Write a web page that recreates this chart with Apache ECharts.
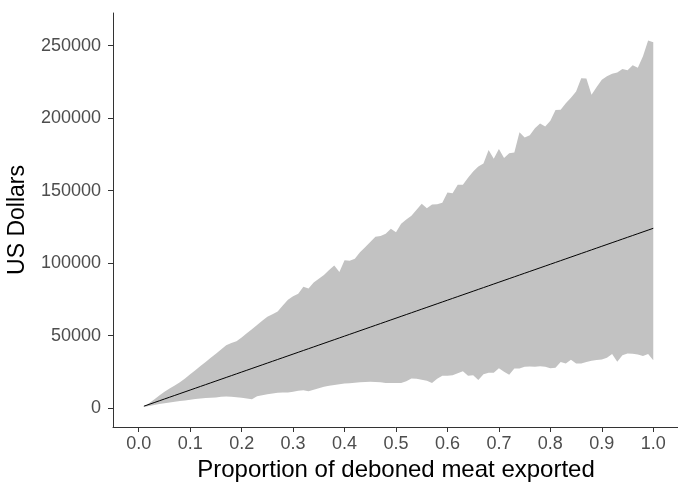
<!DOCTYPE html>
<html><head><meta charset="utf-8">
<script src="https://cdn.jsdelivr.net/npm/echarts@6/dist/echarts.min.js"></script>
<style>html,body{margin:0;padding:0;background:#fff}#c{width:678px;height:483px}</style>
</head><body><div id="c"></div>
<script>
const proportion = [0.01,0.02,0.03,0.04,0.05,0.06,0.07,0.08,0.09,0.10,
0.11,0.12,0.13,0.14,0.15,0.16,0.17,0.18,0.19,0.20,
0.21,0.22,0.23,0.24,0.25,0.26,0.27,0.28,0.29,0.30,
0.31,0.32,0.33,0.34,0.35,0.36,0.37,0.38,0.39,0.40,
0.41,0.42,0.43,0.44,0.45,0.46,0.47,0.48,0.49,0.50,
0.51,0.52,0.53,0.54,0.55,0.56,0.57,0.58,0.59,0.60,
0.61,0.62,0.63,0.64,0.65,0.66,0.67,0.68,0.69,0.70,
0.71,0.72,0.73,0.74,0.75,0.76,0.77,0.78,0.79,0.80,
0.81,0.82,0.83,0.84,0.85,0.86,0.87,0.88,0.89,0.90,
0.91,0.92,0.93,0.94,0.95,0.96,0.97,0.98,0.99,1.00];

const upper = [700,3250,5940,8630,11260,13400,15540,17680,20370,23200,
26040,28940,31770,34600,37500,40400,43370,44890,46060,48690,
51520,54420,57250,60150,62910,64710,66640,70720,74650,77140,
78800,83700,82460,86670,89230,91710,95300,98340,93920,101930,
101650,103040,107390,110980,114570,118090,118640,120160,123750,121340,
127200,130000,132730,136740,140880,137780,140400,140670,141640,148760,
148200,154000,154000,158840,163120,166570,168710,177970,172030,178660,
172440,175760,176240,190260,186740,188260,193020,196270,194340,198270,
205590,205730,210220,214160,218370,227550,227340,216230,221480,226450,
229000,230590,231560,233900,233000,236600,234740,242680,253590,252350];

const lower = [700,1380,2070,2760,3250,3730,4280,4770,5250,5730,
6280,6630,6840,7040,7320,7670,8010,7800,7460,7040,
6560,6010,8080,8770,9460,10080,10500,10640,10640,11190,
11810,12220,11530,12570,13670,14570,15400,15880,16300,16850,
17130,17410,17680,17890,18160,18020,17750,17270,17200,17200,
17270,18440,20370,20170,19410,18780,17270,20100,22170,22170,
22580,23960,25350,22240,22510,19340,23270,24380,24380,27420,
25000,23000,27210,27210,28450,28660,28450,28800,28450,27420,
27760,31700,30730,33290,30660,30730,31700,32530,33080,33420,
34670,37220,31970,36390,37640,37360,36880,35840,37290,32940];

const mean = [1240,2480,3720,4960,6200,7440,8680,9920,11160,12400,
13640,14880,16120,17360,18600,19840,21080,22320,23560,24800,
26040,27280,28520,29760,31000,32240,33480,34720,35960,37200,
38440,39680,40920,42160,43400,44640,45880,47120,48360,49600,
50840,52080,53320,54560,55800,57040,58280,59520,60760,62000,
63240,64480,65720,66960,68200,69440,70680,71920,73160,74400,
75640,76880,78120,79360,80600,81840,83080,84320,85560,86800,
88040,89280,90520,91760,93000,94240,95480,96720,97960,99200,
100440,101680,102920,104160,105400,106640,107880,109120,110360,111600,
112840,114080,115320,116560,117800,119040,120280,121520,122760,124000];

const xTicks = [0,0.1,0.2,0.3,0.4,0.5,0.6,0.7,0.8,0.9,1.0];
const yTicks = [0,50000,100000,150000,200000,250000];

const chart = echarts.init(document.getElementById('c'), null, {renderer:'canvas'});
const ff = '"Liberation Sans", Arial, Helvetica, sans-serif';
const axisColor = '#333333';
const labelColor = '#4d4d4d';

const bandData = proportion.map((p,i)=>[p, lower[i], upper[i]]);

chart.setOption({
  animation:false,
  backgroundColor:'#ffffff',
  grid:{left:113, right:-1, top:13, bottom:56, outerBoundsMode:'none', containLabel:false},
  xAxis:{
    type:'value', min:-0.05, max:1.05,
    name:'Proportion of deboned meat exported',
    nameLocation:'middle', nameGap:30,
    nameTextStyle:{fontFamily:ff, fontSize:24, color:'#000'},
    axisLine:{show:true, onZero:false, lineStyle:{color:axisColor, width:1}},
    axisTick:{show:true, length:5, lineStyle:{color:axisColor}, customValues:xTicks},
    axisLabel:{customValues:xTicks, formatter:v=>v.toFixed(1), fontFamily:ff, fontSize:18, color:labelColor, margin:8},
    splitLine:{show:false}
  },
  yAxis:{
    type:'value', min:-13121, max:272583,
    name:'US Dollars',
    nameLocation:'middle', nameGap:84, nameRotate:90,
    nameTextStyle:{fontFamily:ff, fontSize:23, color:'#000'},
    axisLine:{show:true, onZero:false, lineStyle:{color:axisColor, width:1}},
    axisTick:{show:true, length:5, lineStyle:{color:axisColor}, customValues:yTicks},
    axisLabel:{customValues:yTicks, formatter:v=>String(v), fontFamily:ff, fontSize:18, color:labelColor, margin:12},
    splitLine:{show:false}
  },
  series:[
    {type:'custom', silent:true,
     encode:{x:0, y:[1,2]},
     data:bandData,
     renderItem:function(params, api){
       if (params.dataIndex !== 0) return null;
       const pts = [];
       for (let i=0;i<bandData.length;i++) pts.push(api.coord([bandData[i][0], bandData[i][2]]));
       for (let i=bandData.length-1;i>=0;i--) pts.push(api.coord([bandData[i][0], bandData[i][1]]));
       return {type:'polygon', shape:{points:pts}, style:{fill:'#c2c2c2', stroke:null}};
     }},
    {type:'line', symbol:'none', silent:true,
     lineStyle:{color:'#000000', width:1}, data:proportion.map((p,i)=>[p, mean[i]])}
  ]
});
</script></body></html>
